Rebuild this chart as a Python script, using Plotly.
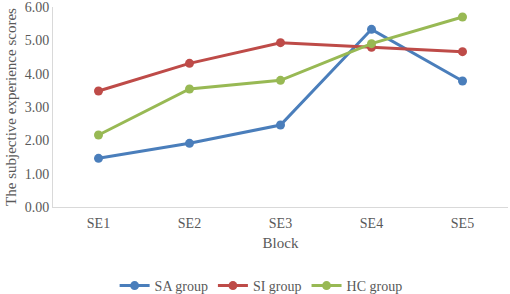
import plotly.graph_objects as go

blocks = ["SE1", "SE2", "SE3", "SE4", "SE5"]
sa_group = [1.46, 1.91, 2.46, 5.33, 3.78]
si_group = [3.48, 4.31, 4.93, 4.79, 4.66]
hc_group = [2.16, 3.54, 3.80, 4.90, 5.70]
y_ticks = [0, 1, 2, 3, 4, 5, 6]
y_tick_labels = ["0.00", "1.00", "2.00", "3.00", "4.00", "5.00", "6.00"]

font_family = "Liberation Serif, Times New Roman, serif"
series = [("SA group", sa_group, "#4A7EBB"),
          ("SI group", si_group, "#BE4B48"),
          ("HC group", hc_group, "#98B954")]

fig = go.Figure()
for name, vals, col in series:
    fig.add_trace(go.Scatter(
        x=blocks, y=vals, name=name, mode="lines+markers",
        line=dict(color=col, width=3), marker=dict(color=col, size=9)))

fig.update_layout(
    width=510, height=294,
    margin=dict(l=53, r=2, t=7, b=87, autoexpand=False),
    paper_bgcolor="white", plot_bgcolor="white",
    font=dict(family=font_family, color="#595959", size=14),
    showlegend=True,
    legend=dict(orientation="h", xref="container", x=0.512, xanchor="center",
                y=-0.395, yanchor="middle",
                font=dict(size=14, color="#595959"), traceorder="normal",
                itemwidth=30, tracegroupgap=0),
    xaxis=dict(type="category", range=[-0.5, 4.5], showgrid=False, showline=True,
               linecolor="#D9D9D9", linewidth=1, ticks="", zeroline=False,
               ticklabelstandoff=3,
               title=dict(text="Block", font=dict(size=15, color="#595959"), standoff=7),
               tickfont=dict(size=14, color="#595959")),
    yaxis=dict(range=[0, 6], tickvals=y_ticks, ticktext=y_tick_labels, showgrid=False,
               showline=True, linecolor="#D9D9D9", linewidth=1, ticks="", zeroline=False,
               ticklabeloverflow="allow",
               title=dict(text="The subjective experience scores",
                          font=dict(size=15, color="#595959"), standoff=4),
               tickfont=dict(size=14, color="#595959")),
)

fig.write_html("out.html", config={"displayModeBar": False},
               post_script="document.body.style.margin='0';document.body.style.padding='0';")
